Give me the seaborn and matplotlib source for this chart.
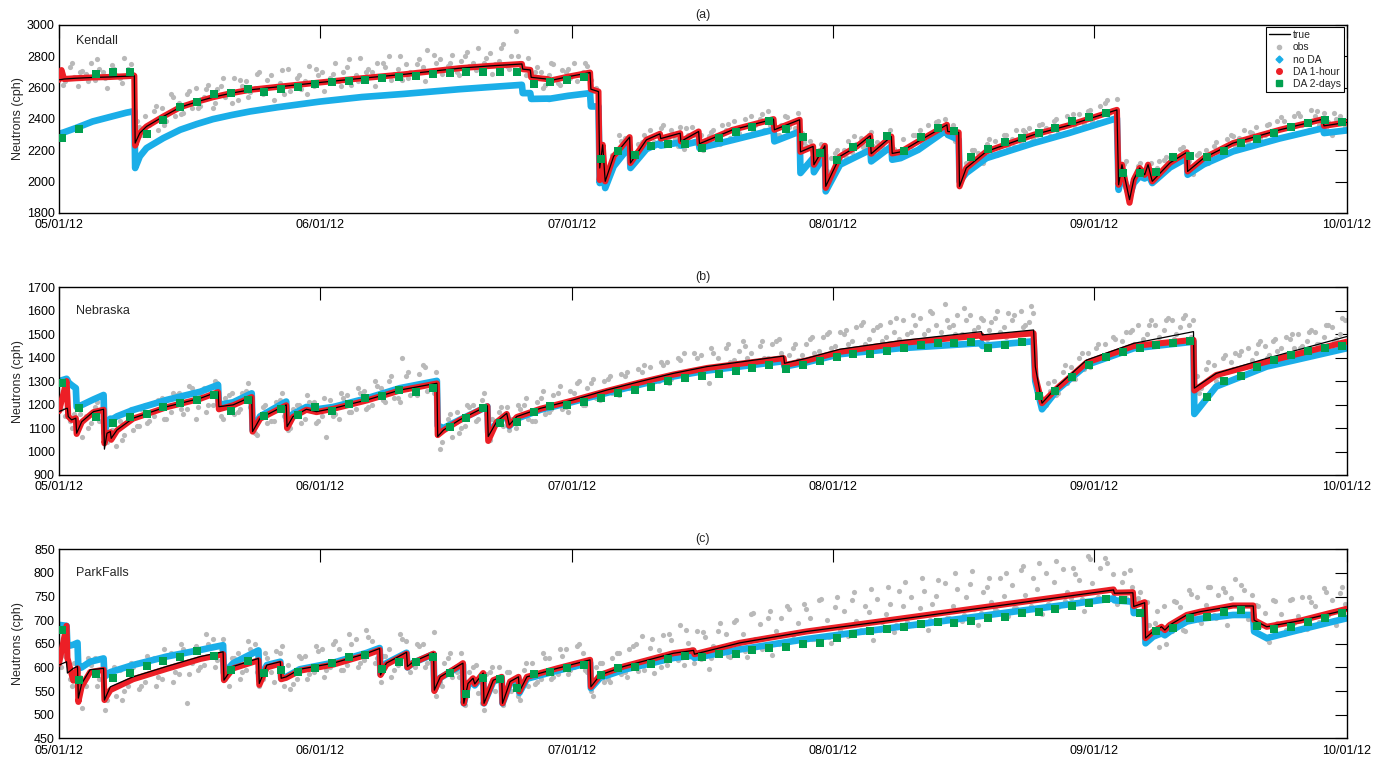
import numpy as np
import matplotlib
matplotlib.use("Agg")
import matplotlib.pyplot as plt
from matplotlib.lines import Line2D
import seaborn as sns

# dates on the x axis, as days after 05/01/12
tick_days = [0, 31, 61, 92, 123, 153]
tick_labels = ["05/01/12", "06/01/12", "07/01/12", "08/01/12", "09/01/12", "10/01/12"]

# ---------------- Kendall ----------------
kendall_day = [0, 0.3, 0.6, 2, 4, 6, 8, 8.95, 9.05, 9.6, 10.4, 12.4, 14.4, 16.4, 18.3, 20.5, 22.7,
               26, 31, 36, 41, 47.6, 51, 55.0, 55.1, 56.0, 56.1, 58.1, 58.2, 60.5, 63.1, 63.2, 64.1,
               64.25, 64.6, 64.9, 65.9, 67.8, 67.9, 69.8, 71.4, 71.5, 73.8, 73.9, 76.0, 76.1, 80, 84.9,
               85.0, 88.0, 88.1, 89.6, 89.7, 91.0, 91.1, 92.8, 94.8, 96.4, 96.5, 98.9, 99.0, 100, 102.1,
               105.5, 105.6, 106.9, 107.0, 107.8, 110.2, 115.8, 120, 125.7, 125.9, 126.3, 127.2, 127.7,
               128.4, 129.0, 129.4, 129.9, 132, 134.0, 134.1, 136, 139.5, 145, 150.2, 150.3, 153]
kendall_true = [2650, 2652, 2655, 2660, 2665, 2668, 2673, 2676, 2246, 2310, 2352, 2416, 2475, 2510, 2539,
                2565, 2586, 2605, 2633, 2660, 2685, 2724, 2738, 2751, 2718, 2713, 2666, 2654, 2643, 2670,
                2696, 2590, 2575, 2087, 2235, 2002, 2161, 2284, 2119, 2267, 2305, 2275, 2309, 2257, 2320,
                2242, 2330, 2399, 2331, 2395, 2190, 2225, 2108, 2229, 1970, 2161, 2225, 2293, 2178, 2288,
                2180, 2190, 2257, 2363, 2320, 2314, 1970, 2087, 2193, 2299, 2360, 2458, 1980, 2108, 1885,
                2012, 2087, 2044, 2108, 2002, 2120, 2187, 2065, 2150, 2246, 2330, 2399, 2356, 2378]
kendall_noda = [2305, 2310, 2315, 2342, 2384, 2412, 2440, 2450, 2087, 2161, 2214, 2278, 2331, 2368, 2399,
                2425, 2448, 2475, 2511, 2540, 2560, 2590, 2603, 2618, 2565, 2565, 2528, 2530, 2528, 2548,
                2565, 2480, 2480, 1991, 2129, 1959, 2097, 2225, 2087, 2208, 2246, 2230, 2250, 2230, 2257,
                2214, 2265, 2331, 2257, 2320, 2055, 2150, 2060, 2172, 1938, 2108, 2161, 2203, 2129, 2225,
                2140, 2150, 2203, 2331, 2299, 2267, 2002, 2055, 2150, 2246, 2310, 2405, 1948, 2055, 1906,
                1990, 2034, 2020, 2050, 1991, 2090, 2150, 2044, 2110, 2193, 2275, 2341, 2310, 2327]
kendall_da1h = [2650, 2712, 2655, 2660, 2665, 2668, 2673, 2676, 2230, 2310, 2352, 2416, 2475, 2510, 2539,
                2565, 2586, 2605, 2633, 2660, 2685, 2724, 2738, 2751, 2718, 2713, 2666, 2654, 2643, 2670,
                2696, 2590, 2575, 2010, 2235, 2002, 2161, 2284, 2119, 2267, 2305, 2275, 2309, 2257, 2320,
                2242, 2330, 2399, 2331, 2395, 2190, 2225, 2108, 2229, 1960, 2161, 2225, 2293, 2178, 2288,
                2180, 2190, 2257, 2363, 2320, 2314, 1970, 2087, 2193, 2299, 2360, 2458, 1980, 2108, 1865,
                2012, 2087, 2044, 2108, 2002, 2120, 2187, 2065, 2150, 2246, 2330, 2399, 2356, 2378]
kendall_da2d = [2281, 2336, 2687, 2702, 2698, 2302, 2394, 2479, 2507, 2558,
                2564, 2590, 2575, 2590, 2602, 2623, 2634, 2640, 2651, 2660,
                2666, 2677, 2685, 2692, 2698, 2703, 2703, 2698, 2621, 2634,
                2651, 2666, 2143, 2198, 2172, 2230, 2238, 2240, 2217, 2277,
                2319, 2351, 2390, 2336, 2287, 2181, 2138, 2223, 2245, 2292,
                2198, 2287, 2341, 2321, 2160, 2206, 2253, 2281, 2309, 2341,
                2390, 2413, 2436, 2053, 2058, 2064, 2160, 2165, 2160, 2196,
                2249, 2270, 2309, 2351, 2373, 2394, 2383]
# two readings per day (quarter and three quarter of the day)
kendall_obs = [2700, 2640, 2730, 2665, 2610, 2705, 2690, 2760, 2650, 2720, 2700, 2600, 2745, 2680, 2660, 2790, 2720, 2690, 2390, 2300,
               2420, 2360, 2450, 2330, 2470, 2390, 2560, 2420, 2500, 2440, 2560, 2470, 2600, 2480, 2540, 2620, 2470, 2590, 2610, 2540,
               2580, 2660, 2520, 2610, 2640, 2570, 2600, 2700, 2560, 2650, 2680, 2610, 2630, 2560, 2720, 2620, 2660, 2590, 2640, 2740,
               2610, 2680, 2700, 2640, 2660, 2760, 2640, 2700, 2730, 2620, 2680, 2790, 2650, 2720, 2700, 2760, 2660, 2730, 2800, 2690,
               2720, 2650, 2750, 2700, 2690, 2780, 2730, 2840, 2700, 2760, 2780, 2720, 2740, 2810, 2700, 2770, 2800, 2740, 2760, 2850,
               2720, 2790, 2820, 2750, 2770, 2880, 2740, 2800, 2960, 2760, 2720, 2790, 2650, 2730, 2700, 2620, 2680, 2750, 2630, 2710,
               2700, 2660, 2760, 2680, 2700, 2740, 2650, 2600, 2150, 2080, 2040, 2170, 2210, 2260, 2280, 2230, 2150, 2240, 2250, 2220,
               2330, 2250, 2300, 2360, 2240, 2330, 2270, 2350, 2210, 2300, 2350, 2260, 2300, 2220, 2290, 2330, 2250, 2360, 2330, 2280,
               2390, 2310, 2350, 2300, 2420, 2360, 2400, 2330, 2450, 2380, 2300, 2360, 2420, 2350, 2380, 2440, 2310, 2230, 2260, 2180,
               2200, 2130, 2070, 2150, 2180, 2140, 2200, 2260, 2190, 2240, 2280, 2230, 2300, 2230, 2250, 2220, 2280, 2330, 2210, 2180,
               2270, 2200, 2230, 2300, 2330, 2260, 2360, 2300, 2380, 2320, 2400, 2330, 2360, 2310, 2020, 2120, 2130, 2200, 2180, 2120,
               2240, 2200, 2260, 2190, 2300, 2220, 2270, 2330, 2250, 2320, 2340, 2280, 2300, 2370, 2340, 2290, 2390, 2310, 2350, 2420,
               2400, 2340, 2430, 2370, 2450, 2390, 2420, 2480, 2500, 2440, 2460, 2530, 2050, 2130, 1950, 2030, 2100, 2050, 2080, 2120,
               2070, 2130, 2140, 2080, 2170, 2130, 2210, 2160, 2130, 2050, 2170, 2110, 2200, 2140, 2230, 2180, 2200, 2270, 2300, 2230,
               2280, 2330, 2250, 2310, 2350, 2280, 2300, 2370, 2320, 2390, 2410, 2340, 2350, 2420, 2440, 2360, 2380, 2460, 2420, 2360,
               2440, 2380, 2300, 2400, 2420, 2350]
# one more reading per day (middle of the day)
kendall_obs_mid = [2620, 2760, 2700, 2640, 2780, 2660, 2720, 2630, 2750, 2350,
                   2300, 2480, 2360, 2540, 2430, 2580, 2470, 2590, 2500, 2660,
                   2500, 2650, 2540, 2690, 2590, 2520, 2710, 2580, 2680, 2560,
                   2720, 2580, 2690, 2610, 2780, 2640, 2700, 2610, 2760, 2650,
                   2800, 2660, 2750, 2640, 2810, 2690, 2760, 2680, 2830, 2710,
                   2760, 2690, 2850, 2720, 2800, 2680, 2700, 2600, 2760, 2620,
                   2720, 2640, 2760, 2580, 2240, 2100, 2300, 2210, 2190, 2300,
                   2240, 2340, 2260, 2230, 2340, 2300, 2200, 2320, 2240, 2370,
                   2290, 2400, 2330, 2430, 2360, 2300, 2410, 2340, 2250, 2200,
                   2240, 2020, 2200, 2160, 2290, 2220, 2320, 2190, 2300, 2160,
                   2210, 2300, 2240, 2270, 2390, 2300, 2260, 2060, 2200, 2130,
                   2270, 2170, 2300, 2220, 2330, 2250, 2360, 2280, 2400, 2310,
                   2430, 2340, 2460, 2380, 2520, 2400, 2110, 1990, 2120, 2040,
                   2090, 2160, 2110, 2220, 2060, 2180, 2120, 2250, 2170, 2290,
                   2230, 2320, 2250, 2360, 2280, 2390, 2300, 2420, 2330, 2450,
                   2340, 2440, 2330]

# ---------------- Nebraska ----------------
nebraska_day = [0, 0.9, 1.0, 1.1, 1.5, 2.0, 2.1, 2.7, 4.1, 5.3, 5.4, 5.7, 6.1, 6.2, 6.9, 8.8, 12.8, 16.8,
                18.9, 19.0, 20.7, 22.9, 23.0, 23.9, 27.0, 27.1, 27.8, 29.4, 30.6, 32.6, 36.6, 40.5, 44.9,
                45.0, 45.7, 47.6, 50.9, 51.0, 52.0, 53.2, 53.5, 54.4, 57.2, 61.1, 65.1, 69.0, 73.0, 77.0,
                86.1, 86.2, 88.8, 92.8, 99.9, 109.6, 109.7, 115.8, 116.0, 116.8, 118.6, 122.1, 127.7,
                134.8, 134.9, 137.5, 143.5, 153]
nebraska_true = [1170, 1184, 1184, 1149, 1135, 1142, 1078, 1127, 1170, 1180,
                 1010, 1078, 1085, 1056, 1092, 1142, 1191, 1227, 1255, 1191,
                 1199, 1234, 1085, 1142, 1199, 1106, 1149, 1180, 1170, 1184,
                 1220, 1262, 1291, 1064, 1092, 1135, 1195, 1064, 1127, 1163,
                 1113, 1149, 1184, 1220, 1262, 1298, 1333, 1362, 1407, 1376,
                 1397, 1436, 1472, 1511, 1497, 1518, 1362, 1206, 1277, 1390,
                 1461, 1511, 1270, 1333, 1397, 1490]
nebraska_noda = [1300, 1310, 1305, 1295, 1283, 1270, 1190, 1198, 1222, 1241,
                 1080, 1120, 1140, 1135, 1150, 1177, 1220, 1255, 1284, 1199,
                 1210, 1248, 1092, 1150, 1213, 1127, 1160, 1190, 1180, 1190,
                 1227, 1270, 1301, 1110, 1100, 1135, 1192, 1080, 1120, 1155,
                 1108, 1140, 1178, 1212, 1250, 1285, 1320, 1345, 1385, 1362,
                 1380, 1415, 1440, 1462, 1450, 1470, 1300, 1180, 1262, 1369,
                 1440, 1468, 1160, 1277, 1362, 1440]
nebraska_da1h = [1172, 1300, 1230, 1150, 1135, 1142, 1075, 1125, 1168, 1178,
                 1035, 1075, 1082, 1050, 1090, 1140, 1189, 1225, 1253, 1180,
                 1197, 1232, 1085, 1140, 1197, 1100, 1147, 1178, 1168, 1182,
                 1218, 1260, 1290, 1070, 1090, 1133, 1193, 1045, 1125, 1160,
                 1110, 1147, 1182, 1218, 1258, 1294, 1328, 1356, 1398, 1368,
                 1388, 1425, 1462, 1495, 1485, 1504, 1320, 1206, 1270, 1379,
                 1450, 1476, 1260, 1326, 1383, 1468]
nebraska_da2d = [1291, 1187, 1149, 1120, 1145, 1160, 1191, 1206, 1220, 1241,
                 1174, 1220, 1153, 1180, 1156, 1189, 1174, 1203, 1227, 1237,
                 1262, 1255, 1270, 1103, 1142, 1184, 1120, 1127, 1170, 1194,
                 1200, 1213, 1230, 1251, 1262, 1277, 1301, 1312, 1322, 1331,
                 1345, 1358, 1369, 1353, 1369, 1387, 1404, 1414, 1414, 1430,
                 1440, 1454, 1461, 1464, 1468, 1440, 1454, 1468, 1237, 1260,
                 1319, 1369, 1404, 1426, 1440, 1454, 1464, 1473, 1234, 1301,
                 1322, 1362, 1390, 1412, 1429, 1440, 1450]
nebraska_obs = [1180, 1150, 1130, 1160, 1110, 1060, 1150, 1120, 1190, 1130, 1210, 1040, 1090, 1025, 1130, 1070, 1160, 1090, 1110, 1180,
                1200, 1130, 1150, 1220, 1230, 1140, 1170, 1240, 1250, 1160, 1180, 1270, 1140, 1240, 1270, 1200, 1200, 1290, 1150, 1230,
                1240, 1160, 1170, 1250, 1260, 1190, 1080, 1150, 1190, 1120, 1130, 1210, 1220, 1150, 1090, 1180, 1200, 1120, 1140, 1210,
                1210, 1130, 1150, 1060, 1220, 1160, 1140, 1230, 1240, 1170, 1180, 1250, 1260, 1190, 1200, 1280, 1270, 1210, 1300, 1230,
                1230, 1400, 1320, 1240, 1250, 1330, 1370, 1260, 1270, 1340, 1010, 1100, 1140, 1060, 1170, 1100, 1110, 1190, 1200, 1140,
                1220, 1160, 1050, 1130, 1170, 1110, 1190, 1140, 1100, 1180, 1200, 1140, 1130, 1210, 1230, 1160, 1170, 1240, 1250, 1180,
                1190, 1260, 1250, 1300, 1200, 1270, 1290, 1230, 1220, 1300, 1310, 1250, 1260, 1330, 1320, 1270, 1280, 1350, 1340, 1290,
                1360, 1300, 1300, 1370, 1380, 1310, 1320, 1390, 1420, 1330, 1340, 1400, 1410, 1350, 1290, 1420, 1400, 1360, 1440, 1380,
                1390, 1430, 1470, 1400, 1420, 1380, 1450, 1400, 1400, 1460, 1470, 1420, 1360, 1410, 1440, 1390, 1410, 1460, 1480, 1420,
                1430, 1490, 1500, 1440, 1450, 1510, 1500, 1460, 1470, 1530, 1540, 1460, 1480, 1520, 1530, 1470, 1490, 1550, 1510, 1480,
                1560, 1500, 1510, 1540, 1570, 1500, 1520, 1590, 1540, 1510, 1630, 1530, 1540, 1580, 1500, 1560, 1580, 1520, 1530, 1560,
                1480, 1550, 1570, 1510, 1530, 1590, 1560, 1500, 1600, 1540, 1550, 1590, 1260, 1190, 1200, 1260, 1300, 1250, 1340, 1290,
                1360, 1310, 1400, 1350, 1420, 1380, 1440, 1390, 1460, 1410, 1490, 1430, 1470, 1510, 1510, 1460, 1540, 1480, 1500, 1560,
                1540, 1490, 1520, 1570, 1560, 1500, 1530, 1580, 1540, 1560, 1320, 1270, 1350, 1310, 1370, 1320, 1400, 1340, 1380, 1420,
                1410, 1360, 1440, 1390, 1420, 1470, 1450, 1410, 1470, 1430, 1440, 1490, 1480, 1440, 1500, 1450, 1470, 1520, 1510, 1460,
                1490, 1540, 1530, 1480, 1500, 1560]
nebraska_obs_mid = [1240, 1100, 1160, 1100, 1210, 1080, 1120, 1050, 1180, 1110,
                    1120, 1210, 1140, 1250, 1180, 1280, 1190, 1170, 1300, 1140,
                    1250, 1180, 1290, 1070, 1200, 1130, 1250, 1100, 1200, 1240,
                    1120, 1230, 1150, 1250, 1170, 1270, 1180, 1300, 1220, 1320,
                    1210, 1340, 1240, 1360, 1250, 1040, 1160, 1080, 1200, 1130,
                    1250, 1140, 1190, 1090, 1200, 1230, 1130, 1260, 1180, 1280,
                    1170, 1290, 1200, 1310, 1230, 1320, 1240, 1340, 1260, 1370,
                    1280, 1380, 1290, 1400, 1310, 1420, 1330, 1440, 1340, 1460,
                    1360, 1450, 1370, 1470, 1380, 1480, 1350, 1460, 1370, 1490,
                    1390, 1510, 1410, 1520, 1420, 1550, 1440, 1540, 1450, 1570,
                    1460, 1580, 1470, 1600, 1480, 1560, 1500, 1610, 1490, 1570,
                    1520, 1600, 1490, 1580, 1530, 1620, 1230, 1290, 1240, 1370,
                    1310, 1420, 1360, 1460, 1400, 1480, 1420, 1520, 1450, 1540,
                    1460, 1560, 1480, 1570, 1490, 1250, 1380, 1300, 1410, 1350,
                    1430, 1370, 1460, 1400, 1480, 1410, 1500, 1440, 1510, 1460,
                    1540, 1470, 1570]

# ---------------- ParkFalls ----------------
parkfalls_day = [0, 0.9, 1.0, 1.7, 2.2, 2.3, 2.7, 3.7, 5.3, 5.4,
                 6.1, 8.8, 12.8, 16.8, 19.5, 19.6, 20.7, 23.7, 23.8, 24.7,
                 26.3, 26.4, 27.0, 28.6, 32.6, 36.6, 38.1, 38.2, 38.9, 41.3,
                 41.4, 42.1, 44.5, 44.6, 45.3, 47.6, 48.0, 48.1, 48.6, 49.2,
                 49.4, 50.4, 50.5, 51.6, 52.6, 52.7, 53.6, 54.6, 54.7, 55.6,
                 59.2, 63.1, 63.2, 64.3, 67.1, 73.0, 75.4, 75.5, 80.9, 88.8,
                 99.9, 125.3, 125.4, 127.6, 127.7, 129.0, 129.1, 130.0, 131.0, 131.4,
                 132.0, 134.0, 135.6, 139.5, 141.9, 142.0, 143.5, 147.5, 153]
parkfalls_true = [605, 612, 588, 598, 602, 535, 566, 595, 598, 531,
                  559, 580, 602, 623, 633, 573, 602, 619, 566, 605,
                  612, 577, 580, 596, 609, 630, 640, 584, 609, 632,
                  602, 612, 631, 552, 580, 605, 609, 524, 566, 577,
                  565, 588, 524, 573, 580, 524, 570, 580, 549, 580,
                  598, 616, 559, 584, 602, 630, 636, 628, 652, 676,
                  702, 764, 757, 758, 729, 737, 662, 676, 686, 679,
                  690, 711, 718, 730, 730, 700, 686, 699, 722]
parkfalls_noda = [690, 688, 645, 648, 652, 598, 600, 612, 619, 580,
                  590, 605, 623, 637, 647, 588, 609, 636, 573, 605,
                  612, 577, 580, 596, 610, 631, 641, 586, 609, 631,
                  600, 610, 628, 552, 578, 602, 606, 524, 562, 573,
                  562, 585, 524, 570, 577, 524, 566, 576, 546, 576,
                  593, 610, 556, 578, 595, 620, 625, 620, 638, 660,
                  686, 746, 742, 739, 715, 718, 651, 665, 672, 668,
                  676, 697, 703, 711, 711, 676, 662, 680, 704]
parkfalls_da1h = [608, 688, 620, 572, 598, 527, 560, 590, 595, 531,
                  552, 575, 597, 618, 628, 573, 598, 615, 563, 600,
                  608, 575, 578, 593, 606, 627, 637, 584, 606, 629,
                  600, 610, 629, 550, 578, 604, 609, 524, 566, 577,
                  565, 588, 524, 573, 580, 524, 570, 580, 549, 580,
                  598, 616, 559, 584, 602, 630, 636, 628, 652, 676,
                  703, 765, 758, 759, 730, 738, 662, 676, 686, 679,
                  690, 711, 718, 731, 731, 700, 686, 699, 724]
parkfalls_da2d = [679, 573, 585, 578, 588, 604, 614, 623, 634, 625,
                  595, 614, 588, 595, 591, 599, 610, 623, 626, 597,
                  612, 611, 623, 589, 544, 577, 575, 556, 586, 591,
                  598, 605, 584, 598, 600, 607, 617, 625, 623, 628,
                  628, 636, 642, 644, 649, 652, 662, 670, 676, 681,
                  685, 692, 697, 695, 699, 704, 706, 715, 718, 723,
                  729, 737, 745, 743, 716, 676, 684, 705, 706, 717,
                  722, 688, 681, 686, 697, 704, 715]
parkfalls_obs = [600, 625, 575, 610, 590, 515, 560, 605, 620, 575, 590, 530, 580, 540, 595, 550, 560, 600, 610, 560,
                 570, 615, 620, 580, 575, 625, 630, 590, 585, 640, 525, 610, 645, 600, 605, 650, 660, 615, 640, 575,
                 560, 620, 630, 590, 595, 640, 650, 560, 575, 620, 590, 635, 630, 560, 605, 565, 575, 620, 625, 585,
                 590, 635, 640, 595, 600, 655, 640, 595, 605, 650, 660, 610, 615, 665, 655, 620, 570, 625, 640, 595,
                 605, 660, 655, 590, 600, 645, 650, 610, 615, 540, 570, 610, 620, 580, 590, 630, 520, 590, 600, 545,
                 525, 585, 590, 550, 600, 520, 590, 550, 560, 530, 595, 560, 610, 570, 575, 620, 620, 580, 585, 625,
                 640, 595, 600, 650, 630, 590, 550, 600, 610, 570, 575, 620, 630, 585, 590, 640, 645, 593, 666, 614,
                 641, 588, 636, 668, 605, 657, 624, 690, 606, 652, 638, 677, 618, 665, 597, 645, 677, 639, 671, 623,
                 696, 644, 671, 622, 714, 660, 692, 643, 705, 626, 678, 704, 656, 723, 669, 695, 647, 724, 705, 661,
                 743, 684, 700, 651, 728, 679, 720, 666, 743, 699, 680, 731, 718, 659, 745, 696, 713, 734, 675, 761,
                 731, 697, 749, 690, 726, 762, 679, 735, 751, 718, 779, 705, 731, 767, 699, 750, 776, 723, 689, 760,
                 771, 738, 724, 790, 751, 708, 774, 725, 806, 753, 724, 790, 766, 713, 799, 745, 781, 728, 809, 760,
                 746, 798, 784, 720, 836, 778, 744, 810, 831, 767, 798, 735, 780, 746, 806, 743, 746, 708, 738, 663,
                 693, 643, 731, 689, 678, 738, 728, 677, 764, 711, 748, 695, 733, 770, 711, 753, 769, 690, 747, 788,
                 723, 763, 703, 753, 733, 688, 716, 654, 742, 695, 712, 680, 742, 693, 708, 748, 681, 738, 730, 697,
                 769, 711, 743, 690, 757, 734]
parkfalls_obs_mid = [640, 560, 580, 620, 560, 510, 600, 530, 610, 555,
                     625, 560, 640, 570, 650, 585, 595, 670, 600, 660,
                     620, 575, 655, 590, 630, 570, 645, 555, 625, 575,
                     645, 580, 650, 595, 670, 600, 680, 610, 625, 580,
                     670, 605, 650, 600, 675, 560, 630, 580, 570, 605,
                     510, 600, 545, 590, 540, 610, 565, 630, 575, 640,
                     585, 645, 595, 540, 610, 570, 630, 580, 650, 595,
                     660, 600, 670, 615, 680, 610, 675, 620, 695, 625,
                     700, 635, 715, 640, 720, 650, 730, 655, 735, 660,
                     745, 665, 750, 670, 760, 675, 765, 680, 770, 690,
                     780, 690, 790, 700, 785, 705, 800, 710, 805, 715,
                     790, 720, 800, 725, 815, 730, 820, 735, 825, 740,
                     810, 745, 830, 750, 820, 760, 800, 770, 760, 690,
                     720, 650, 740, 680, 755, 700, 770, 705, 760, 710,
                     775, 705, 730, 660, 740, 670, 745, 680, 750, 690,
                     760, 700, 770]

obs_day = np.arange(len(kendall_obs)) * 0.5 + 0.25
obs_mid_day = np.arange(len(kendall_obs_mid)) + 0.5
da2d_day = np.arange(len(kendall_da2d)) * 2 + 0.4

GRAY = "#b9b9b9"
CYAN = "#1aaee8"
RED = "#ec1f26"
GREEN = "#00a04f"

sns.set_style("white")
plt.rcParams["font.family"] = ["Liberation Sans", "DejaVu Sans"]


def desenha_painel(ax, day, true, noda, da1h, da2d, obs, obs_mid, ylim, yticks, nome, nome_y, titulo):
    sns.scatterplot(x=obs_day, y=obs, ax=ax, color=GRAY, s=14, linewidth=0, legend=False, zorder=1)
    sns.scatterplot(x=obs_mid_day, y=obs_mid, ax=ax, color=GRAY, s=14, linewidth=0, legend=False, zorder=1)
    sns.lineplot(x=day, y=noda, ax=ax, color=CYAN, linewidth=4.8, estimator=None, sort=False,
                 legend=False, zorder=2, solid_joinstyle="round", solid_capstyle="round")
    sns.lineplot(x=day, y=da1h, ax=ax, color=RED, linewidth=4.4, estimator=None, sort=False,
                 legend=False, zorder=3, solid_joinstyle="round", solid_capstyle="round")
    sns.lineplot(x=day, y=true, ax=ax, color="black", linewidth=0.9, estimator=None, sort=False,
                 legend=False, zorder=4)
    sns.scatterplot(x=da2d_day, y=da2d, ax=ax, color=GREEN, marker="s", s=30, linewidth=0,
                    legend=False, zorder=5)

    ax.set_xlim(0, 153)
    ax.set_ylim(*ylim)
    ax.set_yticks(yticks)
    ax.set_xticks(tick_days)
    ax.set_xticklabels(tick_labels)
    ax.tick_params(direction="in", top=True, right=True, length=9, width=0.8,
                   labelsize=9, colors="black")
    ax.tick_params(axis="y", pad=3)
    ax.tick_params(axis="x", pad=4.5)
    ax.set_xlabel("")
    ax.set_ylabel("Neutrons (cph)", fontsize=9)
    ax.yaxis.set_label_coords(-0.027, 0.5)
    ax.set_title(titulo, fontsize=9, pad=5)
    ax.text(0.013, nome_y, nome, transform=ax.transAxes, fontsize=9, va="center", ha="left")
    for s in ax.spines.values():
        s.set_linewidth(1.0)
        s.set_color("black")


fig = plt.figure(figsize=(13.75, 7.59), dpi=100)
fig.patch.set_facecolor("white")

ax_a = fig.add_axes([0.0429, 0.7194, 0.9365, 0.2477])
ax_b = fig.add_axes([0.0429, 0.3742, 0.9365, 0.2473])
ax_c = fig.add_axes([0.0429, 0.0273, 0.9365, 0.2490])

desenha_painel(ax_a, kendall_day, kendall_true, kendall_noda, kendall_da1h, kendall_da2d,
               kendall_obs, kendall_obs_mid, (1800, 3000), range(1800, 3001, 200), "Kendall", 0.915, "(a)")
desenha_painel(ax_b, nebraska_day, nebraska_true, nebraska_noda, nebraska_da1h, nebraska_da2d,
               nebraska_obs, nebraska_obs_mid, (900, 1700), range(900, 1701, 100), "Nebraska", 0.875, "(b)")
desenha_painel(ax_c, parkfalls_day, parkfalls_true, parkfalls_noda, parkfalls_da1h, parkfalls_da2d,
               parkfalls_obs, parkfalls_obs_mid, (450, 850), range(450, 851, 50), "ParkFalls", 0.873, "(c)")

handles = [
    Line2D([], [], color="black", linewidth=1.0),
    Line2D([], [], color=GRAY, marker="o", linestyle="none", markersize=3),
    Line2D([], [], color=CYAN, marker="D", linestyle="none", markersize=3.5),
    Line2D([], [], color=RED, marker="o", linestyle="none", markersize=4),
    Line2D([], [], color=GREEN, marker="s", linestyle="none", markersize=5),
]
leg = ax_a.legend(handles, ["true", "obs", "no DA", "DA 1-hour", "DA 2-days"],
                  loc="upper right", bbox_to_anchor=(0.998, 0.99), borderaxespad=0,
                  fontsize=7.5, frameon=True, fancybox=False, framealpha=1,
                  handlelength=2.0, handletextpad=0.3, labelspacing=0.22, borderpad=0.3)
leg.get_frame().set_edgecolor("black")
leg.get_frame().set_linewidth(0.8)

fig.savefig("out.png", dpi=100, facecolor="white")
